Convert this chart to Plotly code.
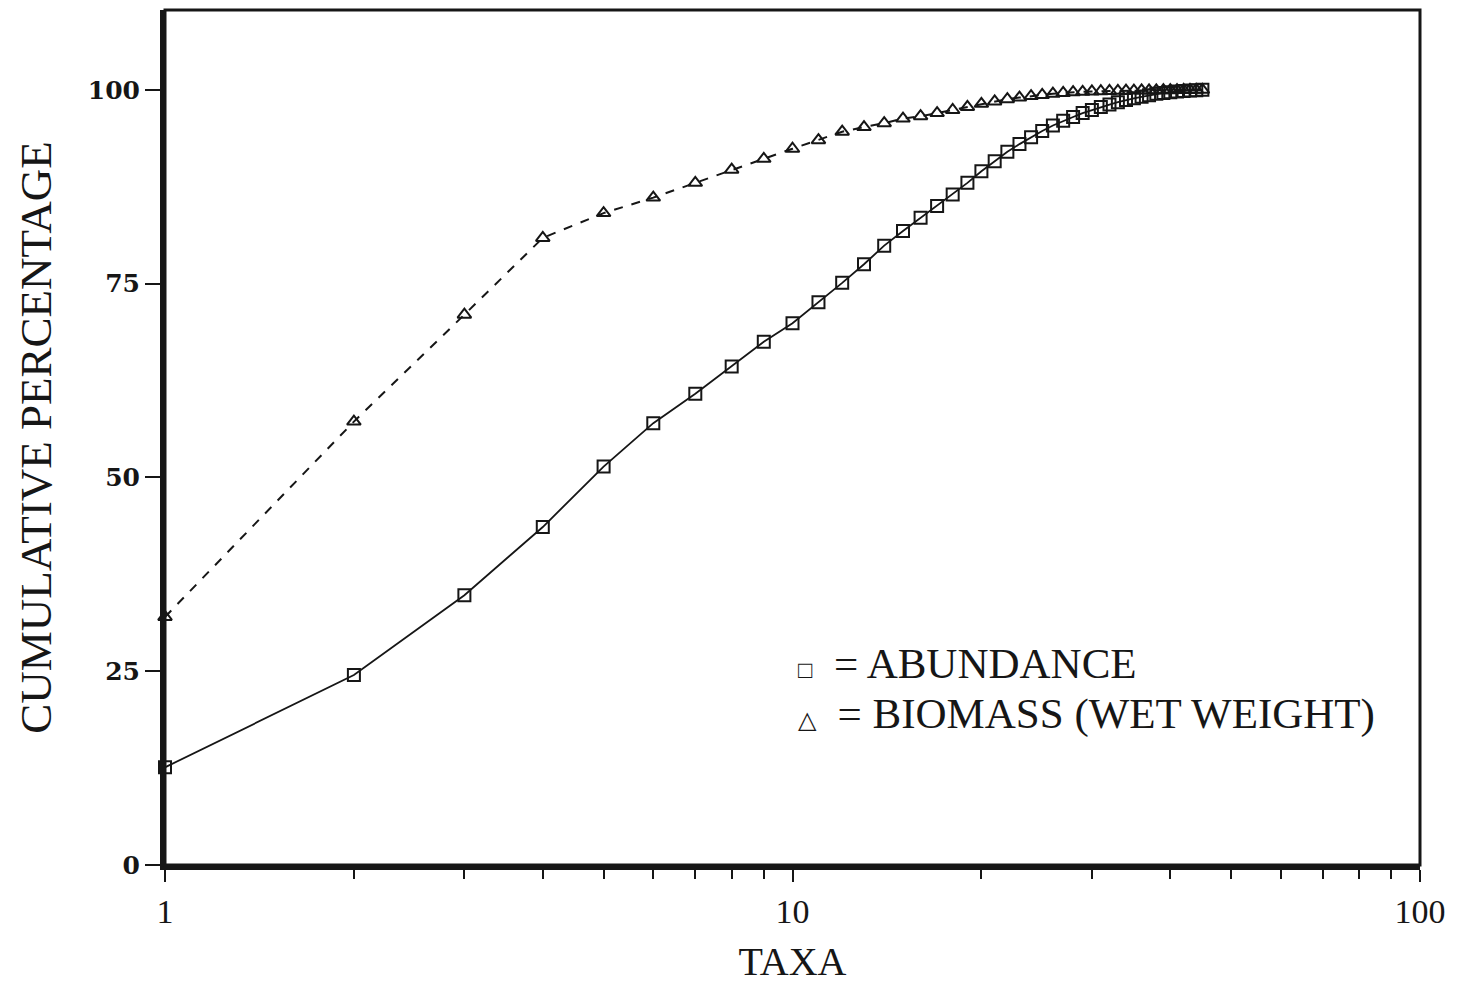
import plotly.graph_objects as go

taxa = list(range(1, 46))

abundance = [12.6, 24.5, 34.8, 43.6, 51.4, 57.0, 60.8, 64.3, 67.5, 69.9,
             72.6, 75.1, 77.5, 79.9, 81.8, 83.5, 85.0, 86.5, 88.0, 89.5,
             90.8, 92.0, 93.0, 93.9, 94.7, 95.4, 96.0, 96.5, 97.0, 97.4,
             97.8, 98.1, 98.4, 98.7, 98.9, 99.1, 99.3, 99.5, 99.6, 99.7,
             99.8, 99.85, 99.9, 99.95, 100.0]

biomass = [32.0, 57.2, 71.0, 80.9, 84.1, 86.1, 88.0, 89.7, 91.1, 92.4,
           93.5, 94.6, 95.2, 95.7, 96.3, 96.6, 97.0, 97.4, 97.8, 98.2,
           98.5, 98.8, 99.0, 99.2, 99.35, 99.5, 99.6, 99.7, 99.75, 99.8,
           99.82, 99.85, 99.87, 99.89, 99.9, 99.92, 99.93, 99.94, 99.95, 99.96,
           99.97, 99.98, 99.99, 100.0, 100.0]

y_ticks = [0, 25, 50, 75, 100]
x_ticks = [1, 10, 100]
x_minor_ticks = [2, 3, 4, 5, 6, 7, 8, 9, 20, 30, 40, 50, 60, 70, 80, 90]
legend_abundance = "= ABUNDANCE"
legend_biomass = "= BIOMASS (WET WEIGHT)"

INK = "#161616"
SERIF = "Liberation Serif"

fig = go.Figure()
fig.add_trace(go.Scatter(
    x=taxa, y=biomass, mode="lines+markers",
    line=dict(color=INK, width=2, dash="dash"),
    marker=dict(symbol="triangle-up-open", size=12, color=INK, line=dict(width=2, color=INK)),
    showlegend=False, cliponaxis=False))
fig.add_trace(go.Scatter(
    x=taxa, y=abundance, mode="lines+markers",
    line=dict(color=INK, width=1.8),
    marker=dict(symbol="square-open", size=12, color=INK, line=dict(width=2, color=INK)),
    showlegend=False, cliponaxis=False))

fig.add_annotation(xref="paper", yref="paper", x=0.503, y=0.236, xanchor="left", yanchor="middle",
                   text="<span style='font-size:24px'>□</span>  " + legend_abundance,
                   showarrow=False, font=dict(family=SERIF, size=43, color=INK))
fig.add_annotation(xref="paper", yref="paper", x=0.503, y=0.177, xanchor="left", yanchor="middle",
                   text="<span style='font-size:24px'>△</span>  " + legend_biomass,
                   showarrow=False, font=dict(family=SERIF, size=43, color=INK))

# plot frame
fig.add_shape(type="rect", xref="paper", yref="paper", x0=0, y0=0, x1=1, y1=1,
              line=dict(color=INK, width=3), layer="above")

fig.update_layout(
    width=1460, height=984,
    margin=dict(l=165, r=40, t=10, b=119),
    paper_bgcolor="white", plot_bgcolor="white",
    xaxis=dict(
        type="log", range=[0, 2], tickvals=x_ticks, ticktext=[str(v) for v in x_ticks],
        ticks="outside", ticklen=12, tickwidth=2, tickcolor=INK, automargin=False,
        minor=dict(tickvals=x_minor_ticks, ticks="outside", ticklen=9, tickwidth=1.5,
                   tickcolor=INK, showgrid=False),
        showline=True, linewidth=5, linecolor=INK, showgrid=False, zeroline=False,
        tickfont=dict(family=SERIF, size=34, color=INK),
        title=dict(text="TAXA", font=dict(family=SERIF, size=40, color=INK), standoff=22),
    ),
    yaxis=dict(
        range=[0, 110.3], tickvals=y_ticks, ticks="outside", ticklen=15, tickwidth=1.5, tickcolor=INK,
        showline=True, linewidth=5, linecolor=INK, showgrid=False, zeroline=False, automargin=False,
        tickfont=dict(family="DejaVu Serif", size=25, color=INK, weight="bold"),
        title=dict(text="CUMULATIVE PERCENTAGE", font=dict(family=SERIF, size=45, color=INK), standoff=24),
    ),
)

fig.write_html("out.html")
